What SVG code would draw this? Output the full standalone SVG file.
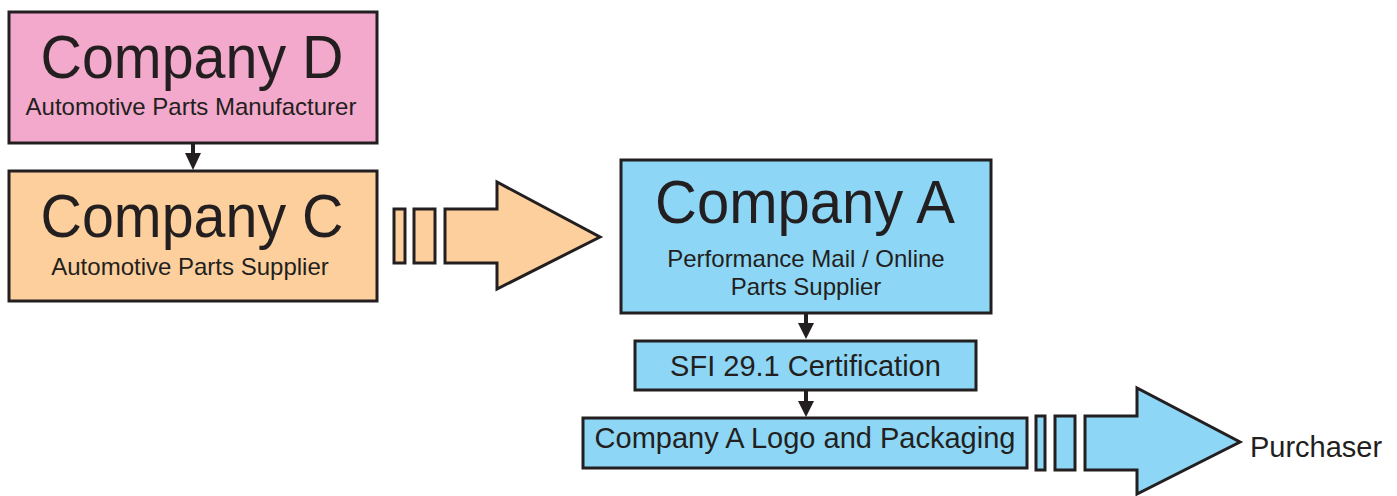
<svg xmlns="http://www.w3.org/2000/svg" width="1397" height="496" viewBox="0 0 1397 496">
  <style>
    .box { stroke: #231f20; stroke-width: 3; }
    .pink { fill: #f2a9cb; }
    .peach { fill: #fdcf9c; }
    .blue { fill: #8dd6f5; }
    text { font-family: "Liberation Sans", Arial, sans-serif; fill: #231f20; text-anchor: middle; }
    .title { font-size: 61px; }
    .sub { font-size: 24px; }
    .label { font-size: 29px; }
    .conn { stroke: #231f20; stroke-width: 4; fill: none; }
    .head { fill: #231f20; }
  </style>
  <rect width="1397" height="496" fill="#ffffff"/>

  <g id="company-d">
    <rect class="box pink" x="9" y="12" width="368" height="131"/>
    <text class="title" x="192" y="78" textLength="303" lengthAdjust="spacingAndGlyphs">Company D</text>
    <text class="sub" x="191" y="115">Automotive Parts Manufacturer</text>
  </g>

  <g id="company-c">
    <rect class="box peach" x="9" y="171" width="368" height="130"/>
    <text class="title" x="192" y="237" textLength="303" lengthAdjust="spacingAndGlyphs">Company C</text>
    <text class="sub" x="190" y="275">Automotive Parts Supplier</text>
  </g>

  <g id="company-a">
    <rect class="box blue" x="621" y="160" width="370" height="153"/>
    <text class="title" x="805" y="223" textLength="300" lengthAdjust="spacingAndGlyphs">Company A</text>
    <text class="sub" x="806" y="267">Performance Mail / Online</text>
    <text class="sub" x="806" y="295">Parts Supplier</text>
  </g>

  <g id="sfi-certification">
    <rect class="box blue" x="635" y="341" width="341" height="49"/>
    <text class="label" x="805.5" y="376">SFI 29.1 Certification</text>
  </g>

  <g id="logo-packaging">
    <rect class="box blue" x="583" y="418" width="444" height="50"/>
    <text class="label" x="805" y="448">Company A Logo and Packaging</text>
  </g>

  <g id="purchaser">
    <text class="label" x="1316" y="457">Purchaser</text>
  </g>

  <g id="connectors">
    <!-- D to C -->
    <line class="conn" x1="193" y1="143" x2="193" y2="156"/>
    <polygon class="head" points="185,153 201,153 193,170"/>
    <!-- A to SFI -->
    <line class="conn" x1="806" y1="313" x2="806" y2="326"/>
    <polygon class="head" points="798,323 814,323 806,339"/>
    <!-- SFI to logo -->
    <line class="conn" x1="806" y1="390" x2="806" y2="404"/>
    <polygon class="head" points="798,401 814,401 806,417"/>

    <!-- block arrow C to A -->
    <g class="box peach">
      <rect x="394" y="209" width="11" height="54"/>
      <rect x="414" y="209" width="21" height="54"/>
      <polygon points="445,209 497,209 497,182 600,237 497,289 497,263 445,263"/>
    </g>

    <!-- block arrow logo to purchaser -->
    <g class="box blue">
      <rect x="1036" y="416" width="9" height="54"/>
      <rect x="1055" y="416" width="20" height="54"/>
      <polygon points="1085,416 1137,416 1137,388 1240,442 1137,494 1137,470 1085,470"/>
    </g>
  </g>
</svg>
